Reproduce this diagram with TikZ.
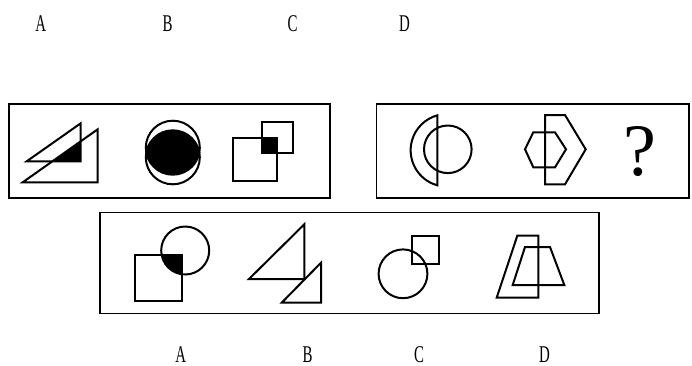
\documentclass[tikz,border=0pt]{standalone}
\usepackage{graphicx}
\usepackage{fontspec}
\newfontfamily\figfont{Liberation Serif}
\usepackage{tikz}
\usetikzlibrary{positioning}

\begin{document}
\begin{tikzpicture}[
    x=1pt, y=-1pt,
    fig/.style={line width=2pt, line join=miter},
    panel/.style={line width=1.5pt},
    lbl/.style={font=\figfont\fontsize{24}{24}\selectfont, inner sep=0pt}
]
    \useasboundingbox (0,0) rectangle (692,365);

    % panels
    \draw[panel] (9,104) rectangle (330,198);
    \draw[panel] (376.7,104) rectangle (689,198);
    \draw[panel] (100,212.3) rectangle (599,313.3);

    % first row: two triangles
    \fill (52.4,161.3) -- (80.7,161.3) -- (80.7,141.3) -- cycle;
    \draw[fig] (26.7,161.3) -- (80.7,161.3) -- (80.7,123.3) -- cycle;
    \draw[fig] (22.7,182.3) -- (97.7,182.3) -- (97.7,129.3) -- cycle;

    % two circles
    \begin{scope}
        \clip (172.8,147.7) circle[radius=27];
        \fill (172.8,157.3) circle[radius=27];
    \end{scope}
    \draw[fig] (172.8,147.7) circle[radius=27];
    \draw[fig] (172.8,157.3) circle[radius=27];

    % two squares
    \fill (261.7,138.3) rectangle (277.3,152.7);
    \draw[fig] (233.3,138.3) rectangle (277.3,180.7);
    \draw[fig] (261.7,122.3) rectangle (292.7,152.7);

    % second row: arc and circle
    \draw[fig] (437.3,185.3) arc[start angle=105.4, end angle=254.6, radius=36.3] -- cycle;
    \draw[fig] (447.8,149.3) circle[radius=23.8];

    % hexagons
    \draw[fig] (525,149.3) -- (533.3,132.3) -- (555,132.3) -- (566,149.3)
        -- (555,167.3) -- (533.3,167.3) -- cycle;
    \draw[fig] (545,115) -- (565,115) -- (585.7,149.3) -- (565,184.3)
        -- (545,184.3) -- cycle;

    \node[inner sep=0pt, font=\figfont\fontsize{74}{74}\selectfont] (qmark) at (639.5,151.5) {?};

    % options
    \begin{scope}
        \clip (135,255) rectangle (181.7,301);
        \fill (185.2,250.5) circle[radius=24];
    \end{scope}
    \draw[fig] (135,255) rectangle (181.7,301);
    \draw[fig] (185.2,250.5) circle[radius=24];

    \draw[fig] (249,279) -- (304.3,279) -- (304.3,224.3) -- cycle;
    \draw[fig] (281.7,302.7) -- (321,302.7) -- (321,262.7) -- cycle;

    \draw[fig] (403,273.8) circle[radius=24.4];
    \draw[fig] (411.7,236) rectangle (439.3,264);

    \draw[fig] (496.7,297.7) -- (517.3,235.7) -- (538.3,235.7) -- (538.3,297.7) -- cycle;
    \draw[fig] (512.7,285) -- (525,247) -- (550,247) -- (564.3,285) -- cycle;

    % letters
    \node[lbl] (topA) at (40.8,23.3) {\scalebox{0.62}[1]{A}};
    \node[lbl] (topB) at (167.5,23.3) {\scalebox{0.62}[1]{B}};
    \node[lbl] (topC) at (292.5,23.3) {\scalebox{0.62}[1]{C}};
    \node[lbl] (topD) at (404.5,23.3) {\scalebox{0.62}[1]{D}};

    \node[lbl] (optA) at (180.8,354.5) {\scalebox{0.62}[1]{A}};
    \node[lbl] (optB) at (307.5,354.5) {\scalebox{0.62}[1]{B}};
    \node[lbl] (optC) at (419,354.5) {\scalebox{0.62}[1]{C}};
    \node[lbl] (optD) at (544.5,354.5) {\scalebox{0.62}[1]{D}};
\end{tikzpicture}
\end{document}
